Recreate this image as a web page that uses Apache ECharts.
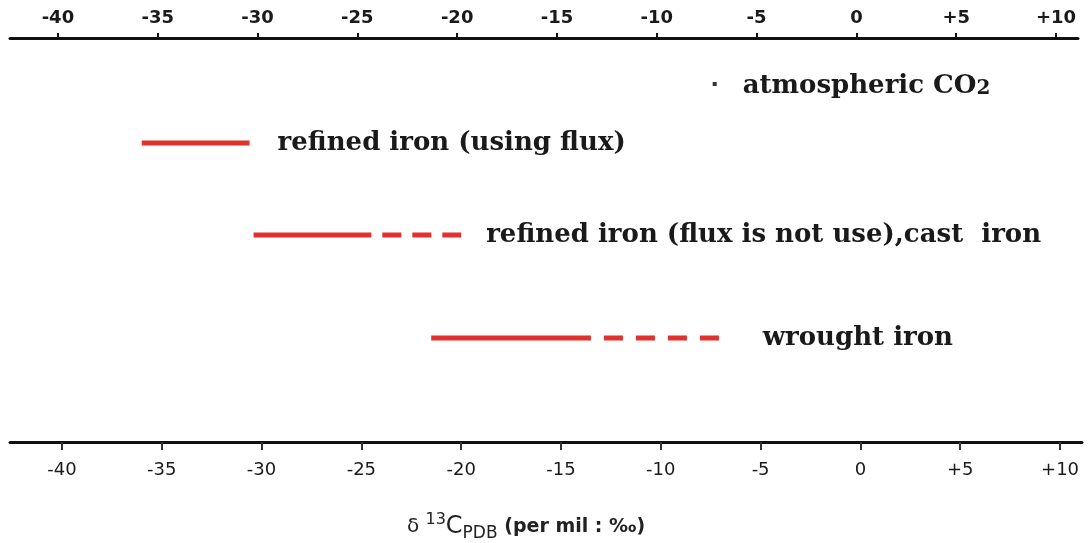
<!DOCTYPE html>
<html>
<head>
<meta charset="utf-8">
<script src="https://cdn.jsdelivr.net/npm/echarts@6/dist/echarts.min.js"></script>
<style>html,body{margin:0;padding:0;background:#fff;}#c{width:1089px;height:543px;}</style>
</head>
<body>
<div id="c"></div>
<script>
// ---- data ----
const tickValues = [-40, -35, -30, -25, -20, -15, -10, -5, 0, 5, 10];
const rowNames = ['atmospheric CO2', 'refined iron (using flux)', 'refined iron (flux is not use),cast  iron', 'wrought iron'];
const co2Values = [-7.3];
const solidStart = [null, -36, -30.4, -21.5];
const solidEnd = [null, -30.6, -24.5, -13.5];
const dashedEnd = [null, null, -20, -6.8];

// ---- layout ----
const X_MIN = -42.6, X_MAX = 11.1;
const rowY = [84, 143, 235, 338];
const labelGap = [26, 28, 25, 38];
const RED = '#e2302c';
const TXT = '#1a1a1a';
const fmt = v => (v > 0 ? '+' + v : String(v));

const grids = [
  {left: 10, width: 1068, top: 38, height: 10},     // top axis
  {left: 10, width: 1072, top: 433, height: 10}     // bottom axis
];
rowY.forEach(y => grids.push({left: 10, width: 1072, top: y - 10, height: 20}));

const xAxes = [
  {gridIndex: 0, type: 'value', position: 'top', min: -42.4, max: 11.1,
   axisLine: {show: true, onZero: false, lineStyle: {color: '#111', width: 3}},
   axisTick: {show: true, customValues: tickValues, length: 5, lineStyle: {color: '#111', width: 2}},
   axisLabel: {show: true, customValues: tickValues, formatter: fmt, margin: 11,
     fontFamily: 'DejaVu Sans', fontWeight: 'bold', fontSize: 18, color: TXT},
   splitLine: {show: false}},
  {gridIndex: 1, type: 'value', position: 'bottom', min: X_MIN, max: X_MAX,
   axisLine: {show: true, onZero: false, lineStyle: {color: '#111', width: 3}},
   axisTick: {show: true, customValues: tickValues, length: 8, lineStyle: {color: '#333', width: 2}},
   axisLabel: {show: true, customValues: tickValues, formatter: fmt, margin: 19,
     fontFamily: 'DejaVu Sans', fontSize: 18, color: TXT},
   splitLine: {show: false},
   name: '{d|δ }{sup|13}{c|C}{sub|PDB}{p| (per mil : ‰)}',
   nameLocation: 'middle', nameGap: 70,
   nameTextStyle: {
     padding: [0, 40, 0, 0],
     rich: {
       d: {fontFamily: 'DejaVu Sans', fontSize: 20, color: '#222', lineHeight: 30, verticalAlign: 'middle'},
       sup: {fontFamily: 'DejaVu Sans', fontSize: 16, color: '#222', verticalAlign: 'top', lineHeight: 30},
       c: {fontFamily: 'DejaVu Sans', fontSize: 24, color: '#222', lineHeight: 30, verticalAlign: 'middle'},
       sub: {fontFamily: 'DejaVu Sans', fontSize: 17, color: '#222', verticalAlign: 'bottom', lineHeight: 30},
       p: {fontFamily: 'DejaVu Sans', fontSize: 19, fontWeight: 'bold', color: '#222', lineHeight: 30, verticalAlign: 'middle'}
     }
   }}
];
const yAxes = [
  {gridIndex: 0, type: 'value', show: false},
  {gridIndex: 1, type: 'value', show: false}
];
rowNames.forEach((n, i) => {
  xAxes.push({gridIndex: i + 2, type: 'value', min: X_MIN, max: X_MAX, show: false});
  yAxes.push({gridIndex: i + 2, type: 'category', data: [n], show: false});
});

const textStyle = {fontFamily: 'DejaVu Serif', fontWeight: 'bold', fontSize: 26, color: TXT};
const series = [];
// atmospheric CO2 point
series.push({
  type: 'scatter', xAxisIndex: 2, yAxisIndex: 2,
  data: co2Values.map(v => [v, rowNames[0]]),
  symbol: 'rect', symbolSize: 4, itemStyle: {color: '#333', opacity: 1},
  label: {show: true, position: 'right', distance: labelGap[0], color: TXT,
    formatter: '{a|atmospheric CO}{s|2}',
    rich: {a: Object.assign({}, textStyle, {lineHeight: 30, verticalAlign: 'bottom'}),
           s: Object.assign({}, textStyle, {fontSize: 20, lineHeight: 26, verticalAlign: 'bottom'})}},
  silent: true
});
function endItem(x, i) {
  return {value: [x, rowNames[i]],
    label: {show: true, position: 'right', distance: labelGap[i], formatter: rowNames[i], ...textStyle}};
}
for (let i = 1; i < rowNames.length; i++) {
  const hasDash = dashedEnd[i] != null;
  series.push({
    type: 'line', xAxisIndex: i + 2, yAxisIndex: i + 2,
    data: [[solidStart[i], rowNames[i]], hasDash ? [solidEnd[i], rowNames[i]] : endItem(solidEnd[i], i)],
    symbol: 'circle', symbolSize: 0, showSymbol: true,
    lineStyle: {color: RED, width: 5, cap: 'butt'},
    label: {show: false}, silent: true
  });
  if (hasDash) {
    series.push({
      type: 'line', xAxisIndex: i + 2, yAxisIndex: i + 2,
      data: [[solidEnd[i], rowNames[i]], endItem(dashedEnd[i], i)],
      symbol: 'circle', symbolSize: 0, showSymbol: true,
      lineStyle: {color: RED, width: 5, cap: 'butt', type: i === 2 ? [19, 11] : [19, 13], dashOffset: 19},
      label: {show: false}, silent: true
    });
  }
}

const chart = echarts.init(document.getElementById('c'), null, {renderer: 'canvas'});
chart.setOption({
  animation: false,
  backgroundColor: '#fff',
  grid: grids, xAxis: xAxes, yAxis: yAxes, series: series
});
</script>
</body>
</html>
